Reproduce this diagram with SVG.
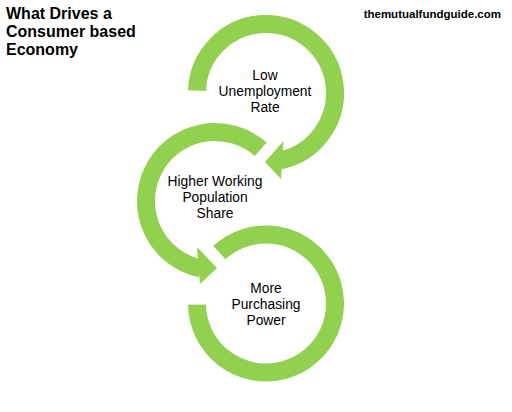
<svg xmlns="http://www.w3.org/2000/svg" width="512" height="412" viewBox="0 0 512 412">
<style>
.ring{fill:none;stroke:#92D050;stroke-width:18;stroke-linecap:butt}
.head{fill:#92D050}
.lbl{font-family:"Liberation Sans",Arial,sans-serif;font-size:13.8px;fill:#000;text-anchor:middle}
.title{font-family:"Liberation Sans",Arial,sans-serif;font-weight:bold;font-size:16px;fill:#000}
.site{font-family:"Liberation Sans",Arial,sans-serif;font-weight:bold;font-size:11.5px;fill:#000;text-anchor:end}
</style>
<rect width="512" height="412" fill="#fff"/>
<g id="title">
<text class="title" x="6" y="19">What Drives a</text>
<text class="title" x="6" y="37">Consumer based</text>
<text class="title" x="6" y="55">Economy</text>
</g>
<g id="site"><text class="site" x="501" y="18">themutualfundguide.com</text></g>
<g id="connectors">
<path class="ring" d="M197.04,90.59 A69,69 0 1 1 280.35,160.49"/>
<polygon class="head" points="283.5,141 265,162 281,179"/>
<path class="ring" d="M260.72,149.32 A69,69 0 1 0 200.65,268.49"/>
<polygon class="head" points="197,247 217,268 200,284"/>
<path class="ring" d="M197.01,304.70 A69,69 0 1 0 219.38,252.63"/>
</g>
<g id="node1">
<text class="lbl" x="265" y="79.5">Low</text>
<text class="lbl" x="265" y="95.5">Unemployment</text>
<text class="lbl" x="265" y="111.5">Rate</text>
</g>
<g id="node2">
<text class="lbl" x="215" y="186">Higher Working</text>
<text class="lbl" x="215" y="202">Population</text>
<text class="lbl" x="215" y="218">Share</text>
</g>
<g id="node3">
<text class="lbl" x="266" y="293">More</text>
<text class="lbl" x="266" y="309">Purchasing</text>
<text class="lbl" x="266" y="325">Power</text>
</g>
</svg>
